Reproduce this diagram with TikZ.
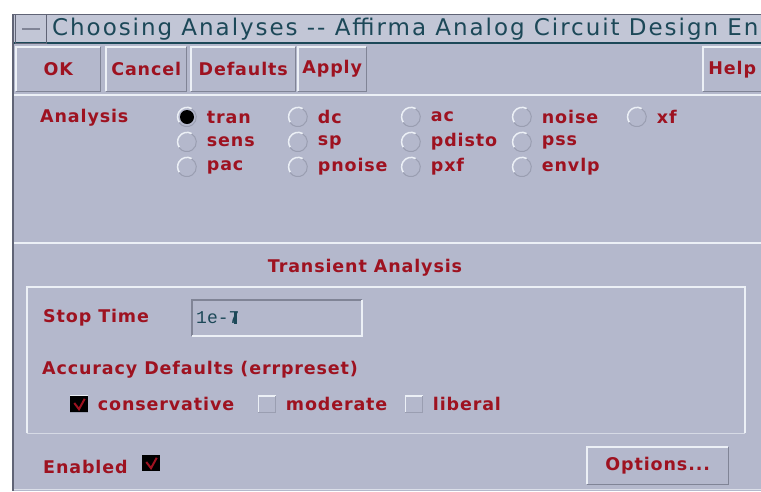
\documentclass[tikz,border=0pt]{standalone}
\usepackage{fontspec}
\setmainfont{DejaVu Sans}
\newfontfamily\titlefont[LetterSpace=8.5]{DejaVu Sans}
\newfontfamily\labelfont[LetterSpace=5]{DejaVu Sans}
\newfontfamily\fieldfont{Liberation Mono}
\definecolor{panel}{RGB}{180,184,204}
\definecolor{titlebg}{RGB}{194,198,214}
\definecolor{labred}{RGB}{158,18,32}
\definecolor{titleink}{RGB}{28,72,88}
\definecolor{hilite}{RGB}{236,240,246}
\definecolor{darkedge}{RGB}{128,132,150}
\definecolor{frameedge}{RGB}{96,100,118}
\tikzset{
  lab/.style={text=labred, font=\labelfont\fontsize{17.5}{17.5}\selectfont\bfseries, anchor=west, inner sep=0pt},
  btnbox/.style={fill=panel, draw=none, minimum height=44pt, inner sep=0pt},
  radio/.style={circle, minimum size=19pt, inner sep=0pt},
  tickbox/.style={minimum width=17pt, minimum height=16pt, inner sep=0pt},
}
\begin{document}
\begin{tikzpicture}[x=1pt,y=-1pt]
\useasboundingbox (0,0) rectangle (761,491);
\fill[white] (0,0) rectangle (761,491);
\fill[panel] (14,14) rectangle (761,491);
% window frame on the left
\draw[frameedge, line width=2pt] (13,14) -- (13,491);

% title bar
\fill[titlebg] (14,14) rectangle (761,43);
\draw[frameedge, line width=1pt] (14,14) -- (761,14);
\draw[titleink, line width=1.5pt] (14,43) -- (761,43);
\node[draw=frameedge, line width=1pt, minimum width=31pt, minimum height=29pt, inner sep=0pt, anchor=north west] (menu) at (15,14) {};
\draw[darkedge, line width=1.5pt] ([xshift=7pt]menu.west) -- ([xshift=-7pt]menu.east);
\begin{scope}
  \clip (46,14) rectangle (761,43);
  \node[anchor=west, inner sep=0pt, text=titleink, font=\titlefont\fontsize{23}{23}\selectfont] (title) at (52,29.5) {Choosing Analyses {-}{-} Affirma Analog Circuit Design Env};
\end{scope}

% button row
\foreach \nm/\xa/\xb/\txt in {ok/16/100/OK, cancel/106/186/Cancel, defaults/191/295/Defaults, apply/298/366/Apply, help/703/761/Help}{
  \node[btnbox, minimum width=\xb pt-\xa pt, anchor=north west] (\nm) at (\xa,47) {};
  \draw[hilite, line width=1.5pt] (\nm.south west) -- (\nm.north west) -- (\nm.north east);
  \draw[darkedge, line width=1pt] (\nm.north east) -- (\nm.south east) -- (\nm.south west);
  \node[lab, anchor=center] at (\nm.center) {\txt};
}
\draw[hilite, line width=1.5pt] (14,95) -- (761,95);

% analysis choices
\node[lab] (analysis) at (40,118) {Analysis};
\foreach \nm/\cx/\cy in {tran/187/117, sens/187/142, pac/187/167,
                         dc/298/117, sp/298/142, pnoise/298/167,
                         ac/411/117, pdisto/411/142, pxf/411/167,
                         noise/522/117, pss/522/142, envlp/522/167,
                         xf/637/117}{
  \node[radio] (r-\nm) at (\cx,\cy) {};
  \draw[hilite, line width=1.5pt] (r-\nm.60) arc[start angle=60, end angle=215, radius=9.5pt];
  \draw[darkedge!50!panel, line width=1pt] (r-\nm.215) arc[start angle=215, end angle=420, radius=9.5pt];
  \node[lab] (t-\nm) at ([xshift=10pt]r-\nm.east) {\nm};
}
\fill[black] (r-tran) circle[radius=7pt];

% transient analysis section
\draw[hilite, line width=2pt] (14,243) -- (761,243);
\node[lab, anchor=center] (trtitle) at (365,268) {Transient Analysis};
\node[minimum width=718pt, minimum height=146pt, inner sep=0pt, anchor=north west] (frame) at (27,287) {};
\draw[hilite, line width=2pt] (frame.south west) -- (frame.north west) -- (frame.north east) -- (frame.south east);
\draw[hilite!60!panel, line width=1.5pt] (frame.south west) -- (frame.south east);

\node[lab] (stop) at (43,318) {Stop Time};
\node[minimum width=170pt, minimum height=36pt, inner sep=0pt, anchor=north west] (field) at (192,300) {};
\draw[darkedge, line width=1.5pt] (field.south west) -- (field.north west) -- (field.north east);
\draw[hilite, line width=2pt] (field.north east) -- (field.south east) -- (field.south west);
\node[anchor=west, inner sep=0pt, text=titleink, font=\fieldfont\fontsize{18}{18}\selectfont] (value) at (196,318) {1e-7};
\draw[titleink, line width=2.5pt] ([xshift=-4pt]value.north east) -- ([xshift=-4pt]value.south east);

\node[lab] (accuracy) at (42,370) {Accuracy Defaults (errpreset)};
\foreach \nm/\bx in {conservative/79, moderate/267, liberal/414}{
  \node[tickbox] (c-\nm) at (\bx,404) {};
  \draw[hilite, line width=1.5pt] (c-\nm.south west) -- (c-\nm.north west) -- (c-\nm.north east);
  \draw[darkedge!50!panel, line width=1pt] (c-\nm.north east) -- (c-\nm.south east) -- (c-\nm.south west);
  \node[lab] (l-\nm) at ([xshift=10pt]c-\nm.east) {\nm};
}
\fill[black] (c-conservative.south west) rectangle (c-conservative.north east);
\draw[labred, line width=2pt] ([xshift=4pt,yshift=1pt]c-conservative.west) -- ([yshift=3pt]c-conservative.south) -- ([xshift=-3pt,yshift=-3pt]c-conservative.north east);

% bottom row
\node[lab] (enabled) at (43,467) {Enabled};
\node[tickbox] (c-enabled) at (151,463) {};
\fill[black] (c-enabled.south west) rectangle (c-enabled.north east);
\draw[labred, line width=2pt] ([xshift=4pt,yshift=1pt]c-enabled.west) -- ([yshift=3pt]c-enabled.south) -- ([xshift=-3pt,yshift=-3pt]c-enabled.north east);

\node[btnbox, minimum width=141pt, minimum height=37pt, anchor=north west] (options) at (587,447) {};
\draw[hilite, line width=1.5pt] (options.south west) -- (options.north west) -- (options.north east);
\draw[darkedge, line width=1pt] (options.north east) -- (options.south east) -- (options.south west);
\node[lab, anchor=center] at (options.center) {Options...};
\draw[hilite!70!panel, line width=1pt] (14,489) -- (761,489);
\end{tikzpicture}
\end{document}
